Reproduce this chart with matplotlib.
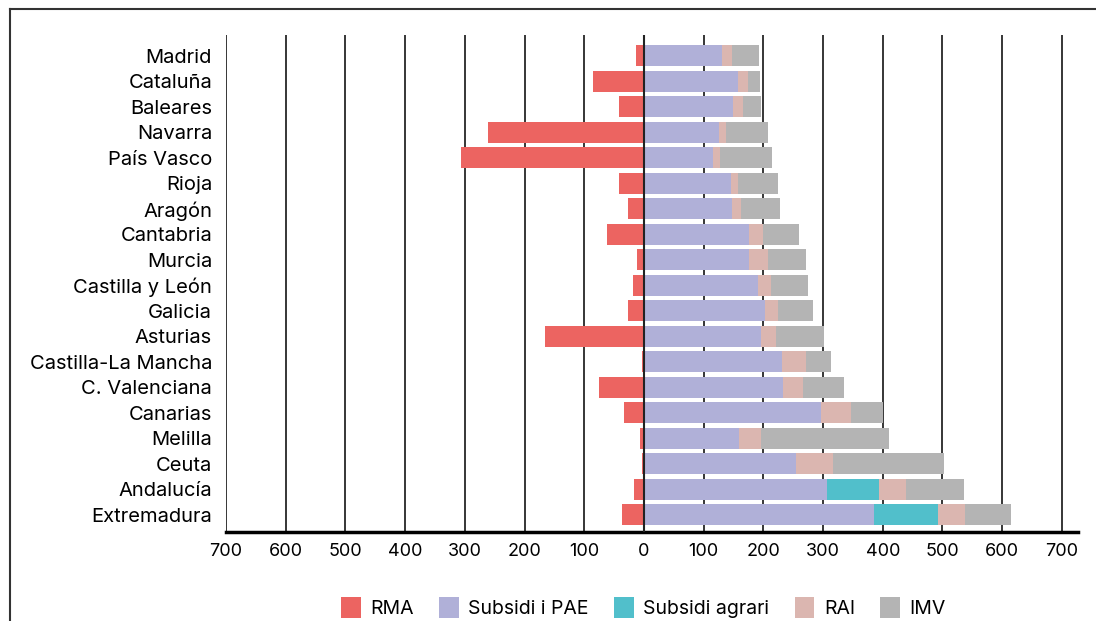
import matplotlib.pyplot as plt
from matplotlib.lines import Line2D
import numpy as np

plt.rcParams['font.family'] = ['Inter', 'DejaVu Sans']

regions = ["Madrid", "Cataluña", "Baleares", "Navarra", "País Vasco", "Rioja",
           "Aragón", "Cantabria", "Murcia", "Castilla y León", "Galicia",
           "Asturias", "Castilla-La Mancha", "C. Valenciana", "Canarias",
           "Melilla", "Ceuta", "Andalucía", "Extremadura"]

rma = [14, 85, 42, 262, 307, 42, 26, 62, 11, 19, 26, 166, 4, 75, 34, 7, 4, 16, 36]
pae = [130, 157, 149, 125, 115, 145, 148, 176, 176, 191, 202, 196, 231, 233, 296, 160, 254, 306, 385]
agrari = [0, 0, 0, 0, 0, 0, 0, 0, 0, 0, 0, 0, 0, 0, 0, 0, 0, 88, 107]
rai = [17, 18, 17, 12, 13, 12, 15, 23, 32, 22, 22, 25, 40, 33, 51, 36, 62, 45, 46]
imv = [45, 20, 30, 70, 86, 67, 65, 60, 64, 62, 59, 80, 42, 69, 54, 214, 187, 97, 77]

ticks = [-700, -600, -500, -400, -300, -200, -100, 0, 100, 200, 300, 400, 500, 600, 700]

colors = {"RMA": "#ec6461", "Subsidi i PAE": "#b0b0d8", "Subsidi agrari": "#51bfcb",
          "RAI": "#dbb6b0", "IMV": "#b4b4b4"}

fig = plt.figure(figsize=(10.96, 6.21), dpi=100)
ax = fig.add_axes([0.2062, 0.1433, 0.7774, 0.8003])

y = np.arange(len(regions))
h = 0.82
ax.barh(y, -np.array(rma), height=h, color=colors["RMA"], label="RMA", zorder=2)
left = np.zeros(len(regions))
for name, vals in [("Subsidi i PAE", pae), ("Subsidi agrari", agrari), ("RAI", rai), ("IMV", imv)]:
    ax.barh(y, vals, left=left, height=h, color=colors[name], label=name, zorder=2)
    left += np.array(vals)

for t in ticks:
    ax.axvline(t, color="black", lw=1.1, zorder=1)
ax.axvline(0, color="#222222", lw=1.5, zorder=3)

ax.set_xlim(-700, 727)
ax.set_ylim(len(regions) - 1 + 0.67, -0.82)
ax.set_yticks(y)
ax.set_yticklabels(regions, fontsize=14.5)
ax.set_xticks(ticks)
ax.set_xticklabels([str(abs(t)) for t in ticks], fontsize=13)
ax.tick_params(axis="both", length=0)
ax.tick_params(axis="y", pad=10)
ax.tick_params(axis="x", pad=8)
for s in ["top", "right", "left"]:
    ax.spines[s].set_visible(False)
ax.spines["bottom"].set_linewidth(2.5)
ax.spines["bottom"].set_color("black")

ax.legend(loc="upper center", bbox_to_anchor=(0.49, -0.095), ncol=5, frameon=False,
          fontsize=14, handlelength=1.0, handleheight=1.3, handletextpad=0.5,
          columnspacing=1.3)

# frame lines of the figure box
fig.add_artist(Line2D([10 / 1096, 1], [1 - 9 / 621, 1 - 9 / 621], color="#333333", lw=1.5))
fig.add_artist(Line2D([10 / 1096, 10 / 1096], [0, 1 - 9 / 621], color="#333333", lw=1.5))

fig.savefig("out.png", dpi=100)
